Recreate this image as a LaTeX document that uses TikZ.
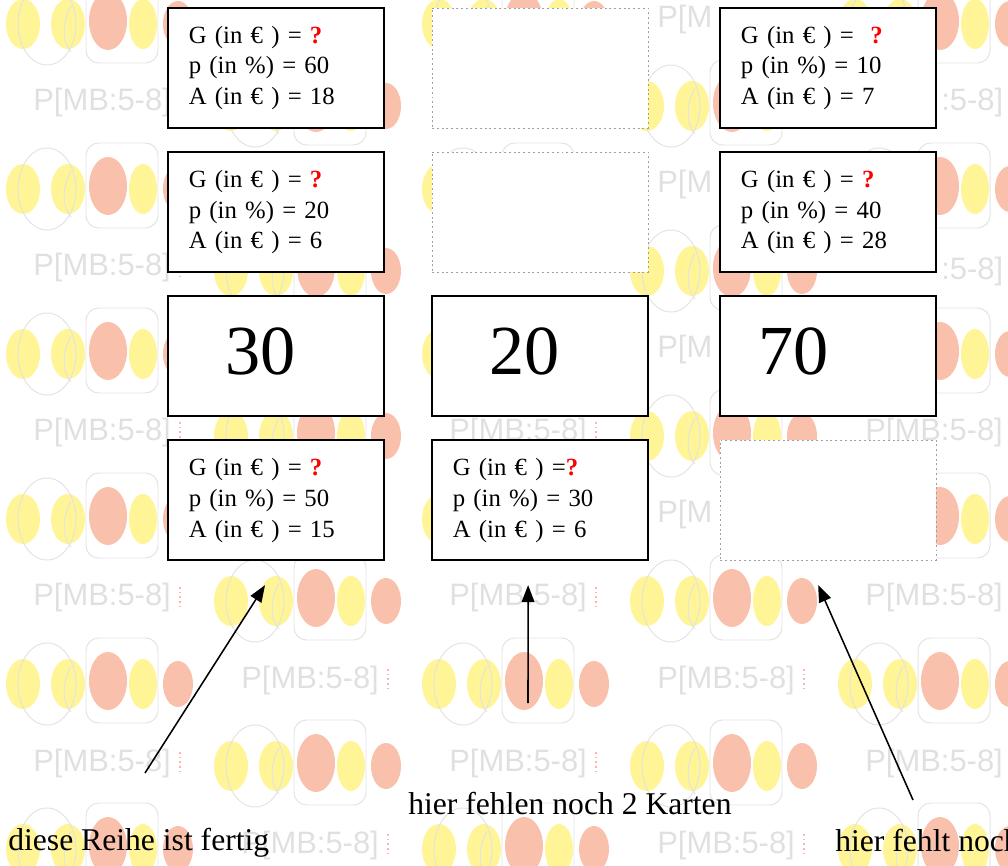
\documentclass[tikz,border=0pt]{standalone}
\usepackage{fontspec}
\setmainfont{Liberation Serif}
\newfontfamily\wmfont{Liberation Sans}
\usepackage{tikz}
\usetikzlibrary{arrows.meta,positioning,calc}
\definecolor{wmyellow}{RGB}{255,244,150}
\definecolor{wmred}{RGB}{249,192,172}
\newcommand{\qmark}{\textcolor{red}{\textbf{?}}}
\tikzset{
  % Card: white box, three lines G / p / A
  card/.style={draw, rectangle, fill=white, line width=1.4pt, outer sep=0pt,
               minimum width=5.4cm, minimum height=3cm, text width=4.36cm,
               inner xsep=0.52cm, inner ysep=0pt, align=left,
               font=\fontsize{17.6}{22}\selectfont},
  % Missing card: dotted outline only
  card-empty/.style={card, draw=gray!75, dotted, line width=0.6pt},
  % Number card: one big number, indent given as argument
  card-num/.style={card, text width=5.4cm, inner xsep=0pt, text height=34pt, text depth=8.5pt,
                   font=\fontsize{50}{50}\selectfont, execute at begin node={\hspace*{#1}}},
  % Pointer arrows and their notes
  arr/.style={-{Triangle[length=12pt,width=9pt]}, line width=1.1pt},
  note/.style={anchor=base west, inner sep=0pt, font=\fontsize{22.5}{26}\selectfont},
  % Background watermark
  wmtext/.style={anchor=west, inner sep=0pt, text=gray!24, font=\wmfont\fontsize{22}{22}\selectfont},
  wmline/.style={draw=gray!22, line width=0.7pt}
}
\begin{document}
\begin{tikzpicture}[x=0.025cm, y=-0.025cm]
\useasboundingbox (0,0) rectangle (1008,866);
\clip (0,0) rectangle (1008,866);

% watermark logos
\foreach \i in {0,...,4}{
  \pgfmathsetmacro{\wx}{33+208*\i}
  \pgfmathsetmacro{\wy}{103+82*mod(\i,2)}
  \foreach \j in {-1,...,4}{
    \pgfmathsetmacro{\ly}{\wy+165*\j+86}
    \fill[wmyellow] (\wx-10,\ly) ellipse [x radius=17, y radius=25];
    \fill[wmyellow] (\wx+35,\ly) ellipse [x radius=17, y radius=25];
    \fill[wmred] (\wx+75,\ly-3) ellipse [x radius=19, y radius=29];
    \fill[wmyellow] (\wx+110,\ly) ellipse [x radius=14, y radius=25];
    \fill[wmred] (\wx+145,\ly) ellipse [x radius=15, y radius=23];
    \draw[wmline] (\wx+14,\ly) ellipse [x radius=29, y radius=41];
    \draw[wmline, rounded corners=9pt] (\wx+53,\ly+39) -- (\wx+53,\ly-46) -- (\wx+125,\ly-46) -- (\wx+125,\ly+39) -- cycle;
    \draw[wmline] (\wx+38,\ly-18) .. controls (\wx+28,\ly) and (\wx+30,\ly+20) .. (\wx+38,\ly+28);
  }
}

% watermark labels (only the parts not under a card)
\foreach \x/\y/\t/\s in {33/103/{P[MB:5-8]}/0, 33/268/{P[MB:5-8]}/0, 33/433/{P[MB:5-8]}/0,
    33/598/{P[MB:5-8]}/0, 33/763/{P[MB:5-8]}/0, 241/680/{P[MB:5-8]}/0, 241/845/{P[MB:5-8]}/0,
    449/433/{P[MB:5-8]}/0, 449/598/{P[MB:5-8]}/0, 449/763/{P[MB:5-8]}/0,
    657/20/{P[M}/0, 657/185/{P[M}/0, 657/350/{P[M}/0, 657/515/{P[M}/0,
    657/680/{P[MB:5-8]}/0, 657/845/{P[MB:5-8]}/0,
    865/103/{:5-8]}/76, 865/272/{:5-8]}/76, 865/433/{P[MB:5-8]}/0,
    865/598/{P[MB:5-8]}/0, 865/763/{P[MB:5-8]}/0}{
  \node[wmtext] (wm-\x-\y) at (\x+\s,\y) {\t};
  \draw[red!30, dotted, line width=1.3pt] (\x+147,\y-11) -- (\x+147,\y+12);
}

% column a
\node[card, anchor=north west] (a1) at (168,8)
  {G (in € ) = \qmark\\ p (in \%) = 60\\ A (in € ) = 18};
\node[card, below=0.6cm of a1] (a2)
  {G (in € ) = \qmark\\ p (in \%) = 20\\ A (in € ) = 6};
\node[card-num=1.425cm, below=0.6cm of a2] (a3) {30};
\node[card, below=0.6cm of a3] (a4)
  {G (in € ) = \qmark\\ p (in \%) = 50\\ A (in € ) = 15};

% column b
\node[card-empty, right=1.2cm of a1] (b1) {};
\node[card-empty, right=1.2cm of a2] (b2) {};
\node[card-num=1.425cm, right=1.2cm of a3] (b3) {20};
\node[card, right=1.2cm of a4] (b4)
  {G (in € ) =\qmark\\ p (in \%) = 30\\ A (in € ) = 6};

% column c
\node[card, right=1.8cm of b1] (c1)
  {G (in € ) = \ \qmark\\ p (in \%) = 10\\ A (in € ) = 7};
\node[card, right=1.8cm of b2] (c2)
  {G (in € ) = \qmark\\ p (in \%) = 40\\ A (in € ) = 28};
\node[card-num=0.95cm, right=1.8cm of b3] (c3) {70};
\node[card-empty, right=1.8cm of b4] (c4) {};

% pointers
\coordinate (tip-a) at ($(a4.south)+(-11,25)$);
\coordinate (tip-b) at ($(b4.south)+(-12,25)$);
\coordinate (tip-c) at ($(c4.south)+(-10,25)$);
\coordinate (tail-a) at (145,773);
\coordinate (tail-b) at (528,703);
\coordinate (tail-c) at (913,800);
\draw[arr] (tail-a) -- (tip-a);
\draw[arr] (tail-b) -- (tip-b);
\draw[arr] (tail-c) -- (tip-c);

\node[note] (done) at (8,850) {diese Reihe ist fertig};
\node[note] (two) at (408,814) {hier fehlen noch 2 Karten};
\node[note] (one) at (835,851) {hier fehlt noch};

\end{tikzpicture}
\end{document}
